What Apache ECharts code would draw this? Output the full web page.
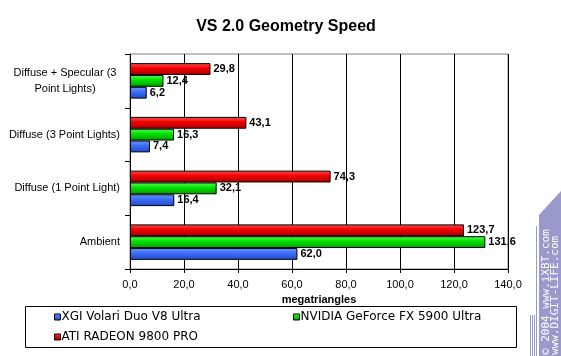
<!DOCTYPE html>
<html><head><meta charset="utf-8">
<script src="https://cdn.jsdelivr.net/npm/echarts@6/dist/echarts.min.js"></script>
<style>html,body{margin:0;padding:0;background:#fff}#c{width:561px;height:356px}</style>
</head><body><div id="c"></div>
<script>
const categories = ['Ambient', 'Diffuse (1 Point Light)', 'Diffuse (3 Point Lights)', 'Diffuse + Specular (3\nPoint Lights)'];
const seriesNames = ['XGI Volari Duo V8 Ultra', 'NVIDIA GeForce FX 5900 Ultra', 'ATI RADEON 9800 PRO'];
const xgi = [62.0, 16.4, 7.4, 6.2];
const nvidia = [131.6, 32.1, 16.3, 12.4];
const ati = [123.7, 74.3, 43.1, 29.8];
const xTicks = [0, 20, 40, 60, 80, 100, 120, 140];

const FONT = '"Liberation Sans", Arial, sans-serif';
const LFONT = '"DejaVu Sans", sans-serif';
function grad(top, mid, bot) {
  return new echarts.graphic.LinearGradient(0, 0, 0, 1, [
    {offset: 0, color: top}, {offset: 0.45, color: mid}, {offset: 1, color: bot}]);
}
const colors = [
  grad('#6d98ff', '#3a6cf4', '#1f48c8'),
  grad('#55ff55', '#00e000', '#009a00'),
  grad('#ff5050', '#f00000', '#a80000')
];
const legendColors = ['#3366ff', '#00cc00', '#ee0000'];
const dataSets = [xgi, nvidia, ati];
const fmt = v => v.toFixed(1).replace('.', ',');

const chart = echarts.init(document.getElementById('c'), null, {renderer: 'canvas'});
// ECharts stacks the first series at the top of each band; reverse so XGI sits at the bottom.
const order = [2, 1, 0];
const series = order.map(i => ({
  name: seriesNames[i],
  type: 'bar',
  data: dataSets[i],
  barGap: '0%',
  barCategoryGap: '34%',
  itemStyle: {color: colors[i], borderColor: '#000', borderWidth: 1},
  label: {show: true, position: 'right', distance: 3, formatter: p => fmt(p.value),
    fontFamily: FONT, fontWeight: 'bold', fontSize: 11, color: '#000'},
  emphasis: {disabled: true},
  animation: false
}));

chart.setOption({
  animation: false,
  color: [legendColors[2], legendColors[1], legendColors[0]],
  title: {text: 'VS 2.0 Geometry Speed', left: 281, textAlign: 'center', top: 14,
    textStyle: {fontFamily: FONT, fontWeight: 'bold', fontSize: 16, color: '#000'}},
  grid: {left: 130, right: 53, top: 54, bottom: 87, show: true, borderColor: '#808080', borderWidth: 1, backgroundColor: 'transparent'},
  xAxis: {
    type: 'value', min: xTicks[0], max: xTicks[xTicks.length - 1], interval: 20,
    name: 'megatriangles', nameLocation: 'middle', nameGap: 19,
    nameTextStyle: {fontFamily: FONT, fontWeight: 'bold', fontSize: 11, color: '#000'},
    axisLine: {show: true, lineStyle: {color: '#000', width: 1}},
    axisTick: {show: true, length: 4, lineStyle: {color: '#000'}},
    axisLabel: {formatter: v => fmt(v), fontFamily: FONT, fontSize: 11, color: '#000', margin: 10},
    splitLine: {show: true, lineStyle: {color: '#000', width: 1}}
  },
  yAxis: {
    type: 'category', data: categories,
    axisLine: {show: true, lineStyle: {color: '#000'}},
    axisTick: {show: true, length: 5, lineStyle: {color: '#000'}},
    axisLabel: {fontFamily: FONT, fontSize: 11, color: '#000', margin: 10, lineHeight: 16,
      formatter: v => v.indexOf('\n') >= 0 ? v.split('\n').map(s => '{m|' + s + '}').join('\n') : v,
      rich: {m: {width: 110, align: 'center', fontFamily: FONT, fontSize: 11, color: '#000', lineHeight: 16}}},
    splitLine: {show: false}
  },
  legend: [
    {data: [seriesNames[0]], left: 54, top: 311},
    {data: [seriesNames[1]], left: 293, top: 311},
    {data: [seriesNames[2]], left: 54, top: 331}
  ].map(l => Object.assign(l, {itemWidth: 6, itemHeight: 6, itemGap: 0, padding: 0,
    icon: 'rect', textStyle: {fontFamily: LFONT, fontSize: 12, color: '#000', padding: [0, 0, 0, -4]},
    itemStyle: {borderColor: '#000', borderWidth: 1}})),
  graphic: [
    {type: 'rect', shape: {x: 25.5, y: 306.5, width: 491, height: 41}, style: {fill: 'none', stroke: '#000', lineWidth: 1}, z: 0},
    {type: 'polygon', shape: {points: [[539, 215], [561, 191], [561, 356], [539, 356]]}, style: {fill: '#9999cc'}, z: 0},
    {type: 'line', shape: {x1: 536.5, y1: 226, x2: 536.5, y2: 356}, style: {stroke: '#9999cc', lineWidth: 1}},
    {type: 'line', shape: {x1: 534.5, y1: 315, x2: 534.5, y2: 356}, style: {stroke: '#9999cc', lineWidth: 1}},
    {type: 'line', shape: {x1: 532.5, y1: 315, x2: 532.5, y2: 356}, style: {stroke: '#9999cc', lineWidth: 1}},
    {type: 'line', shape: {x1: 530.5, y1: 315, x2: 530.5, y2: 356}, style: {stroke: '#9999cc', lineWidth: 1}},
    {type: 'text', x: 546, y: 355, rotation: Math.PI / 2,
      style: {text: '© 2004 www.iXBT.com', fill: '#fff', font: '11px "DejaVu Sans Mono", monospace', textAlign: 'left', textVerticalAlign: 'middle'}},
    {type: 'text', x: 555.5, y: 355, rotation: Math.PI / 2,
      style: {text: 'www.DIGIT-LIFE.com', fill: '#fff', font: '11px "DejaVu Sans Mono", monospace', textAlign: 'left', textVerticalAlign: 'middle'}}
  ],
  series: series
});
</script></body></html>
